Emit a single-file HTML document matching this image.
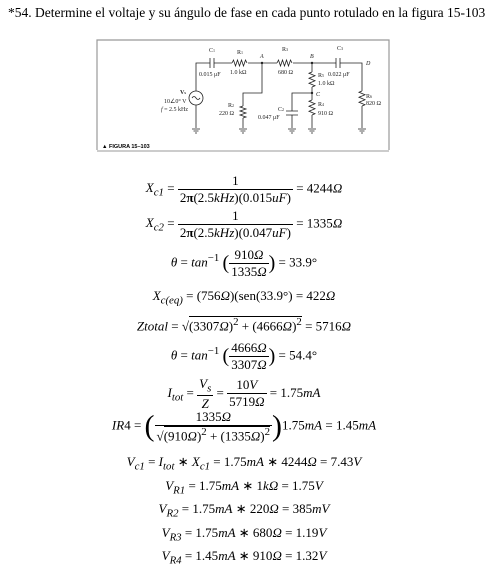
<!DOCTYPE html>
<html><head><meta charset="utf-8"><style>
body{margin:0;background:#fff;width:488px;height:572px;position:relative;overflow:hidden;font-family:"Liberation Serif",serif;color:#000}
.t{position:absolute;left:0;width:488px;text-align:center;font-size:13px;white-space:nowrap}
i{font-style:italic}
.fr{display:inline-block;vertical-align:middle;text-align:center}
.fr>span{display:block;padding:0 2px}
.fr>.n{border-bottom:1px solid #000}
.sq{border-top:1px solid #000;display:inline-block;line-height:1.1}
</style></head><body>
<div style="position:absolute;left:8px;top:5px;font-size:13.5px">*54. Determine el voltaje y su ángulo de fase en cada punto rotulado en la figura 15-103</div>
<svg style="position:absolute;left:0;top:0" width="488" height="572" font-family="Liberation Serif" font-size="6">
<path d="M97 150V40H389V150" stroke="#999" fill="none" stroke-width="1.2"/>
<line x1="97" y1="151" x2="389" y2="151" stroke="#999"/>
<text x="102" y="148" font-family="Liberation Sans" font-size="5.5" font-weight="bold">▲ FIGURA 15–103</text>
<g stroke="#222" stroke-width="0.8" fill="none">
<path d="M196 91V63H210M214 63H232M248 63H277M293 63H336M340 63H362V91M362 106V128"/>
<path d="M210 58v10M214 58v10M336 58v10M340 58v10"/>
<path d="M232 63l1.5-3 2 6 2-6 2 6 2-6 2 6 2-6 1.5 3"/>
<path d="M277 63l1.5-3 2 6 2-6 2 6 2-6 2 6 2-6 1.5 3"/>
<path d="M362 91l-3 1.2 6 2.5-6 2.5 6 2.5-6 2.5 6 2.5-3 1.3"/>
<path d="M262 63V93H243V106M243 118V128"/>
<path d="M243 106l-3 1 6 2-6 2 6 2-6 2 6 2-3 1"/>
<path d="M312 63V72M312 87V100M312 115V128"/>
<path d="M312 72l-3 1.2 6 2.5-6 2.5 6 2.5-6 2.5 6 2.5-3 1.3"/>
<path d="M312 100l-3 1.2 6 2.5-6 2.5 6 2.5-6 2.5 6 2.5-3 1.3"/>
<path d="M312 93H292V111M292 115V128M286 111h12M286 115h12"/>
<circle cx="196" cy="98" r="7"/>
<path d="M192 98q2-3 4 0t4 0"/>
<path d="M196 105V128"/>
<path d="M192 129h8M193.5 131h5M195 133h2M239 129h8M240.5 131h5M242 133h2M288 129h8M289.5 131h5M291 133h2M308 129h8M309.5 131h5M311 133h2M358 129h8M359.5 131h5M361 133h2"/>
</g>
<g fill="#222"><circle cx="262" cy="63" r="1.2"/><circle cx="312" cy="63" r="1.2"/><circle cx="312" cy="93" r="1.2"/></g>
<g fill="#222">
<text x="209" y="52">C<tspan font-size="4">1</tspan></text>
<text x="237" y="54">R<tspan font-size="4">1</tspan></text>
<text x="260" y="58" font-style="italic">A</text>
<text x="282" y="51">R<tspan font-size="4">3</tspan></text>
<text x="310" y="58" font-style="italic">B</text>
<text x="337" y="50">C<tspan font-size="4">3</tspan></text>
<text x="366" y="65" font-style="italic">D</text>
<text x="199" y="76">0.015 μF</text>
<text x="230" y="74">1.0 kΩ</text>
<text x="278" y="74">680 Ω</text>
<text x="328" y="76">0.022 μF</text>
<text x="318" y="77">R<tspan font-size="4">5</tspan></text>
<text x="318" y="85">1.0 kΩ</text>
<text x="316" y="96" font-style="italic">C</text>
<text x="318" y="106">R<tspan font-size="4">4</tspan></text>
<text x="318" y="115">910 Ω</text>
<text x="366" y="98">R<tspan font-size="4">6</tspan></text>
<text x="366" y="105">820 Ω</text>
<text x="228" y="107">R<tspan font-size="4">2</tspan></text>
<text x="219" y="115">220 Ω</text>
<text x="278" y="111">C<tspan font-size="4">2</tspan></text>
<text x="258" y="119">0.047 μF</text>
<text x="180" y="94" font-weight="bold">V<tspan font-size="4">s</tspan></text>
<text x="164" y="103">10∠0° V</text>
<text x="161" y="111"><tspan font-style="italic">f</tspan> = 2.5 kHz</text>
</g>
</svg>
<div class="t" style="top:173px"><i>X<sub>c1</sub></i> = <span class="fr"><span class="n">1</span><span>2<b>π</b>(2.5<i>kHz</i>)(0.015<i>uF</i>)</span></span> = 4244<i>Ω</i></div>
<div class="t" style="top:208px"><i>X<sub>c2</sub></i> = <span class="fr"><span class="n">1</span><span>2<b>π</b>(2.5<i>kHz</i>)(0.047<i>uF</i>)</span></span> = 1335<i>Ω</i></div>
<div class="t" style="top:247px"><i>θ</i> = <i>tan</i><sup>−1</sup> <span style="font-size:20px;vertical-align:middle">(</span><span class="fr"><span class="n">910<i>Ω</i></span><span>1335<i>Ω</i></span></span><span style="font-size:20px;vertical-align:middle">)</span> = 33.9°</div>
<div class="t" style="top:288px"><i>X<sub>c(eq)</sub></i> = (756<i>Ω</i>)(sen(33.9°) = 422<i>Ω</i></div>
<div class="t" style="top:316px"><i>Ztotal</i> = √<span class="sq">(3307<i>Ω</i>)<sup>2</sup> + (4666<i>Ω</i>)<sup>2</sup></span> = 5716<i>Ω</i></div>
<div class="t" style="top:340px"><i>θ</i> = <i>tan</i><sup>−1</sup> <span style="font-size:20px;vertical-align:middle">(</span><span class="fr"><span class="n">4666<i>Ω</i></span><span>3307<i>Ω</i></span></span><span style="font-size:20px;vertical-align:middle">)</span> = 54.4°</div>
<div class="t" style="top:376px"><i>I<sub>tot</sub></i> = <span class="fr"><span class="n"><i>V<sub>s</sub></i></span><span><i>Z</i></span></span> = <span class="fr"><span class="n">10<i>V</i></span><span>5719<i>Ω</i></span></span> = 1.75<i>mA</i></div>
<div class="t" style="top:409px"><i>IR</i>4 = <span style="font-size:30px;vertical-align:middle">(</span><span class="fr"><span class="n">1335<i>Ω</i></span><span>√<span class="sq">(910<i>Ω</i>)<sup>2</sup> + (1335<i>Ω</i>)<sup>2</sup></span></span></span><span style="font-size:30px;vertical-align:middle">)</span>1.75<i>mA</i> = 1.45<i>mA</i></div>
<div class="t" style="top:454px"><i>V<sub>c1</sub></i> = <i>I<sub>tot</sub></i> ∗ <i>X<sub>c1</sub></i> = 1.75<i>mA</i> ∗ 4244<i>Ω</i> = 7.43<i>V</i></div>
<div class="t" style="top:478px"><i>V<sub>R1</sub></i> = 1.75<i>mA</i> ∗ 1<i>kΩ</i> = 1.75<i>V</i></div>
<div class="t" style="top:501px"><i>V<sub>R2</sub></i> = 1.75<i>mA</i> ∗ 220<i>Ω</i> = 385<i>mV</i></div>
<div class="t" style="top:525px"><i>V<sub>R3</sub></i> = 1.75<i>mA</i> ∗ 680<i>Ω</i> = 1.19<i>V</i></div>
<div class="t" style="top:548px"><i>V<sub>R4</sub></i> = 1.45<i>mA</i> ∗ 910<i>Ω</i> = 1.32<i>V</i></div>
</body></html>
